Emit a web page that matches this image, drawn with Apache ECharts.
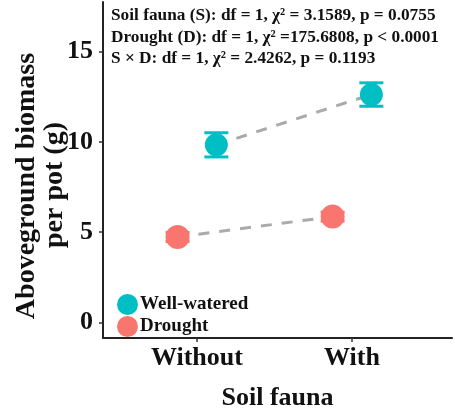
<!DOCTYPE html>
<html><head><meta charset="utf-8">
<script src="https://cdn.jsdelivr.net/npm/echarts@6/dist/echarts.min.js"></script>
<style>html,body{margin:0;padding:0;background:#fff}#c{width:455px;height:416px}</style>
</head><body><div id="c"></div>
<script>
var categories = ['Without', 'With'];
var wellWatered = [9.84, 12.63];
var wellErr = [0.67, 0.65];
var drought = [4.73, 5.86];
var droughtErr = [0.25, 0.25];
var yTicks = [0, 5, 10, 15];
var statLines = [
  'Soil fauna (S): df = 1, \u03c7\u00b2 = 3.1589, p = 0.0755',
  'Drought (D): df = 1, \u03c7\u00b2 =175.6808, p < 0.0001',
  'S \u00d7 D: df = 1, \u03c7\u00b2 = 2.4262, p = 0.1193'
];
var dodge = 0.125;
var FONT = 'Liberation Serif';
var TEAL = '#00BFC4', SALMON = '#F8766D';

function pts(vals, off) { return vals.map(function (v, i) { return [i + off, v]; }); }
function errPts(vals, errs, off) { return vals.map(function (v, i) { return [i + off, v - errs[i], v + errs[i]]; }); }

function errRender(color) {
  return function (params, api) {
    var x = api.value(0);
    var lo = api.coord([x, api.value(1)]);
    var hi = api.coord([x, api.value(2)]);
    var hw = 12;
    var st = { stroke: color, lineWidth: 3 };
    return { type: 'group', children: [
      { type: 'line', shape: { x1: lo[0], y1: lo[1], x2: hi[0], y2: hi[1] }, style: st },
      { type: 'line', shape: { x1: lo[0] - hw, y1: lo[1], x2: lo[0] + hw, y2: lo[1] }, style: st },
      { type: 'line', shape: { x1: hi[0] - hw, y1: hi[1], x2: hi[0] + hw, y2: hi[1] }, style: st }
    ]};
  };
}

var chart = echarts.init(document.getElementById('c'), null, { renderer: 'canvas' });
chart.setOption({
  animation: false,
  backgroundColor: '#fff',
  grid: { left: 103, right: 3, top: 2, bottom: 70, containLabel: false },
  xAxis: {
    type: 'value', min: -0.606, max: 1.645,
    splitLine: { show: false },
    axisLine: { show: true, onZero: false, lineStyle: { color: '#222', width: 2 } },
    axisTick: { show: true, customValues: [0, 1], length: 4, lineStyle: { color: '#333', width: 1.5 } },
    axisLabel: { show: true, customValues: [0, 1], formatter: function (v) { return categories[Math.round(v)]; },
      fontFamily: FONT, fontSize: 26, fontWeight: 'bold', color: '#111', margin: 7 },
    name: 'Soil fauna', nameLocation: 'middle', nameGap: 47,
    nameTextStyle: { fontFamily: FONT, fontSize: 26, fontWeight: 'bold', color: '#111' }
  },
  yAxis: {
    type: 'value', min: -0.87, max: 17.76,
    splitLine: { show: false },
    axisLine: { show: true, onZero: false, lineStyle: { color: '#222', width: 2 } },
    axisTick: { show: true, customValues: yTicks, length: 4, lineStyle: { color: '#333', width: 1.5 } },
    axisLabel: { show: true, customValues: yTicks, fontFamily: FONT, fontSize: 26, fontWeight: 'bold', color: '#111', margin: 10, verticalAlign: 'middle' }
  },
  legend: {
    left: 112, top: 289, orient: 'vertical', icon: 'circle', itemWidth: 21, itemHeight: 21, itemGap: 1,
    textStyle: { fontFamily: FONT, fontSize: 19, fontWeight: 'bold', color: '#111', padding: [0, 0, 0, -3] },
    data: ['Well-watered', 'Drought']
  },
  series: [
    { type: 'custom', name: 'wwErr', renderItem: errRender(TEAL), data: errPts(wellWatered, wellErr, dodge), encode: { x: 0, y: [1, 2] }, z: 2 },
    { type: 'custom', name: 'drErr', renderItem: errRender(SALMON), data: errPts(drought, droughtErr, -dodge), encode: { x: 0, y: [1, 2] }, z: 2 },
    { type: 'line', name: 'Well-watered', data: pts(wellWatered, dodge), symbol: 'circle', symbolSize: 23,
      itemStyle: { color: TEAL }, lineStyle: { color: '#aaa', width: 3, type: [11, 10] }, z: 3 },
    { type: 'line', name: 'Drought', data: pts(drought, -dodge), symbol: 'circle', symbolSize: 24,
      itemStyle: { color: SALMON }, lineStyle: { color: '#aaa', width: 3, type: [11, 10] }, z: 3 }
  ],
  graphic: [
    { type: 'text', left: 111, top: 5, z: 10, style: { text: statLines.join('\n'), fontFamily: FONT, fontSize: 17.3, fontWeight: 'bold', lineHeight: 21.5, fill: '#111' } },
    { type: 'text', x: 27, y: 186, rotation: Math.PI / 2, z: 10, style: { text: 'Aboveground biomass', fontFamily: FONT, fontSize: 28, fontWeight: 'bold', fill: '#111', align: 'center', verticalAlign: 'middle' } },
    { type: 'text', x: 55, y: 185, rotation: Math.PI / 2, z: 10, style: { text: 'per pot (g)', fontFamily: FONT, fontSize: 28, fontWeight: 'bold', fill: '#111', align: 'center', verticalAlign: 'middle' } }
  ]
});
</script></body></html>
